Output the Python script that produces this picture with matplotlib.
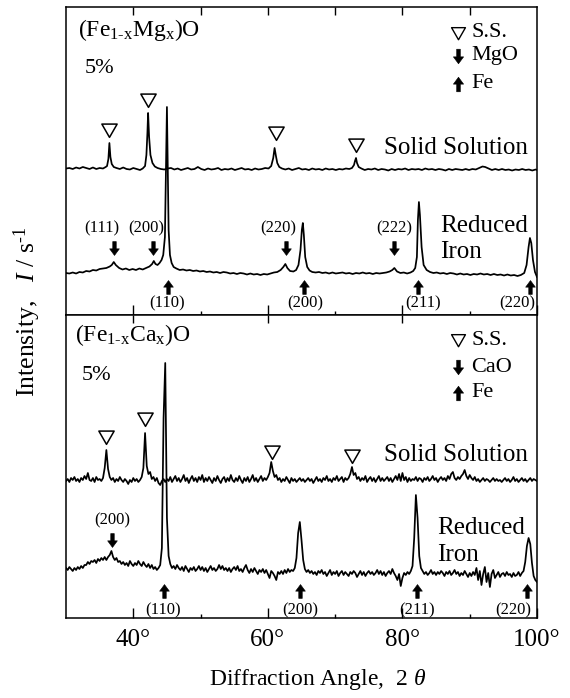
import numpy as np
import matplotlib
matplotlib.use("Agg")
import matplotlib.pyplot as plt
from matplotlib.path import Path

plt.rcParams['font.family'] = ['Liberation Serif', 'DejaVu Serif']
plt.rcParams['mathtext.fontset'] = 'custom'
plt.rcParams['mathtext.rm'] = 'Liberation Serif'
plt.rcParams['mathtext.it'] = 'Liberation Serif:italic'
plt.rcParams['mathtext.bf'] = 'Liberation Serif:bold'

# ---------------- data: (Fe1-xMgx)O panel ----------------
mg_ss_x = [30.0, 30.5, 31.0, 31.5, 32.0, 32.5, 33.0, 33.5, 34.0, 34.5, 35.0, 35.5, 35.9,
           36.1, 36.3, 36.45, 36.6, 36.8, 37.1, 37.5, 38.0, 38.5, 39.0, 39.5, 40.0, 40.5,
           41.0, 41.4, 41.75, 41.95, 42.1, 42.2, 42.35, 42.55, 42.85, 43.2, 43.6, 44.1,
           44.6, 45.1, 45.6, 46.1, 46.6, 47.1, 47.6, 48.1, 48.6, 49.1, 49.6, 50.1, 50.6,
           51.1, 51.6, 52.1, 52.6, 53.1, 53.6, 54.1, 54.6, 55.1, 55.6, 56.1, 56.6, 57.1,
           57.6, 58.1, 58.6, 59.1, 59.6, 60.1, 60.5, 60.8, 61.0, 61.2, 61.4, 61.7, 62.1,
           62.6, 63.1, 63.6, 64.1, 64.6, 65.1, 65.6, 66.1, 66.6, 67.1, 67.6, 68.1, 68.6,
           69.1, 69.6, 70.1, 70.6, 71.1, 71.6, 72.1, 72.5, 72.8, 72.95, 73.1, 73.25, 73.5,
           73.9, 74.4, 74.9, 75.4, 75.9, 76.4, 76.9, 77.4, 77.9, 78.4, 78.9, 79.4, 79.9,
           80.4, 80.9, 81.4, 81.9, 82.4, 82.9, 83.4, 83.9, 84.4, 84.9, 85.4, 85.9, 86.4,
           86.9, 87.4, 87.9, 88.4, 88.9, 89.4, 89.9, 90.4, 90.9, 91.4, 91.9, 92.3, 92.8,
           93.3, 93.8, 94.3, 94.8, 95.3, 95.8, 96.3, 96.8, 97.3, 97.8, 98.3, 98.8, 99.3,
           99.8, 100.0]
mg_ss_y = [146.5, 147, 146, 147.5, 146.5, 148, 147, 146, 147.5, 146, 147, 146.5, 148,
           149, 156, 172, 158, 151, 148, 147, 146, 147.5, 146, 145.5, 147, 146,
           145, 146.5, 149, 160, 182, 202, 178, 160, 152, 148.5, 147, 146,
           145.5, 146.5, 147, 145.5, 146.5, 145, 146, 147, 145.5, 146, 148, 146, 145,
           146.5, 145.5, 146, 147, 145, 146, 145.5, 146.5, 145, 146, 147, 145.5, 146,
           145, 146.5, 145.5, 146, 147, 146.5, 149, 157, 167, 159, 152, 148, 146.5,
           145.5, 146.5, 145, 146, 147, 145.5, 146, 145, 146.5, 145.5, 146, 145, 146.5,
           145.5, 146, 145, 146, 145.5, 146.5, 146, 147, 150, 154, 157, 152, 148,
           146.5, 145, 146, 145.5, 146.5, 145, 146, 145.5, 144.5, 146, 145, 146, 145.5,
           146.5, 145, 146, 145.5, 146, 145, 146.5, 145.5, 146, 145, 146, 145.5, 144.5,
           146, 145, 146, 145.5, 145, 146, 145, 146, 145.5, 147, 148.5, 148, 146.5,
           145, 146, 145, 146, 145, 145.5, 144.5, 145.5, 145, 146, 145, 145.5, 144.5,
           145.5, 145]

mg_ri_x = [30.0, 30.5, 31.0, 31.5, 32.0, 32.5, 33.0, 33.5, 34.0, 34.5, 35.0, 35.5, 36.0,
           36.5, 36.8, 37.1, 37.4, 37.9, 38.4, 38.9, 39.4, 39.9, 40.4, 40.9, 41.4, 41.9,
           42.4, 42.8, 43.05, 43.3, 43.6, 43.9, 44.2, 44.45, 44.7, 44.85, 45.0, 45.12,
           45.25, 45.45, 45.7, 46.0, 46.4, 46.9, 47.4, 47.9, 48.4, 48.9, 49.4, 49.9, 50.4,
           50.9, 51.4, 51.9, 52.4, 52.9, 53.4, 53.9, 54.4, 54.9, 55.4, 55.9, 56.4, 56.9,
           57.4, 57.9, 58.4, 58.9, 59.4, 59.9, 60.4, 60.9, 61.4, 61.9, 62.3, 62.6, 62.9,
           63.3, 63.8, 64.2, 64.55, 64.85, 65.05, 65.2, 65.35, 65.55, 65.85, 66.2, 66.6,
           67.1, 67.6, 68.1, 68.6, 69.1, 69.6, 70.1, 70.6, 71.1, 71.6, 72.1, 72.6, 73.1,
           73.6, 74.1, 74.6, 75.1, 75.6, 76.1, 76.6, 77.1, 77.6, 78.1, 78.5, 78.8, 79.2,
           79.7, 80.2, 80.7, 81.2, 81.6, 81.9, 82.15, 82.3, 82.45, 82.6, 82.85, 83.15,
           83.6, 84.1, 84.6, 85.1, 85.6, 86.1, 86.6, 87.1, 87.6, 88.1, 88.6, 89.1, 89.6,
           90.1, 90.6, 91.1, 91.6, 92.1, 92.6, 93.1, 93.6, 94.1, 94.6, 95.1, 95.6, 96.1,
           96.6, 97.1, 97.6, 98.1, 98.45, 98.75, 98.95, 99.15, 99.4, 99.7, 100.0]
mg_ri_y = [42, 41.5, 42.5, 41.5, 43, 42.5, 44, 43.5, 45, 44.5, 46, 46.5, 47,
           48.5, 50, 53, 50, 47, 45.5, 46.5, 45, 46, 45, 46.5, 45.5, 47,
           48.5, 51, 54, 51, 50, 52, 55, 60, 78, 140, 208, 150,
           85, 60, 52, 48, 46.5, 45, 45.5, 44.5, 45, 44, 44.5, 43.5, 44,
           43, 43.5, 42.5, 43, 42, 43, 42.5, 41.5, 42, 41, 42, 41.5, 40.5,
           41.5, 40.5, 41, 40, 41, 40.5, 41.5, 42.5, 43, 45, 48, 51, 47,
           44, 43.5, 45, 50, 65, 85, 92, 80, 58, 48, 44.5, 43,
           42.5, 43, 42, 42.5, 41.5, 42.5, 41.5, 42, 42.5, 41.5, 42, 41, 42,
           41.5, 42.5, 41.5, 42, 41, 42, 41.5, 42, 42.5, 43.5, 45, 47, 43.5,
           42, 42.5, 41.5, 42.5, 44, 47, 58, 95, 113, 100, 68, 50,
           45, 43, 42, 42.5, 41.5, 42, 41, 42, 41.5, 40.5, 41.5, 40.5, 41,
           40, 41, 40.5, 41.5, 40.5, 41, 40, 41, 40, 40.5, 39.5, 40.5, 39.5,
           40, 39, 40, 42, 50, 68, 77, 72, 55, 43, 38]

mg_ss_peaks = [36.45, 42.2, 61.2, 73.1]
mg_ss_marks = [185, 215, 182, 170]
mgo_arrow_x = [37.2, 43.0, 62.7, 78.8]
mgo_labels = ["(111)", "(200)", "(220)", "(222)"]
mgo_label_x = [35.3, 42.0, 61.6, 78.8]
mg_fe_arrow_x = [45.1, 65.3, 82.3, 99.0]
fe_labels = ["(110)", "(200)", "(211)", "(220)"]
mg_fe_label_x = [45.0, 65.6, 83.0, 97.0]

# ---------------- data: (Fe1-xCax)O panel (0.25 deg steps from 30 to 100) ----------------
ca_ss_y = [
    137, 139, 136, 140,  138, 141, 137, 139,  136, 140, 138, 142,  139, 145, 138, 137,
    140, 136, 141, 138,  139, 137, 140, 150,  168, 149, 141, 138,  140, 136, 139, 137,
    141, 138, 136, 139,  137, 134, 138, 136,  140, 137, 139, 136,  138, 141, 150, 185,
    152, 144, 146, 139,  141, 137, 140, 135,  133, 137, 139, 136,  139, 137, 141, 136,
    139, 142, 137, 140,  136, 139, 143, 137,  140, 135, 139, 142,  137, 140, 136, 141,
    138, 143, 136, 140,  137, 141, 138, 135,  140, 137, 142, 138,  135, 139, 141, 136,
    140, 137, 143, 138,  136, 140, 137, 142,  138, 135, 140, 137,  141, 136, 139, 143,
    137, 140, 136, 139,  142, 137, 140, 138,  141, 145, 156, 147,  141, 143, 138, 140,
    136, 139, 137, 141,  138, 135, 140, 137,  139, 136, 138, 140,  137, 139, 136, 138,
    140, 137, 139, 135,  138, 141, 137, 139,  136, 140, 138, 142,  137, 139, 136, 140,
    138, 142, 137, 139,  141, 136, 140, 138,  140, 144, 151, 143,  145, 139, 141, 137,
    140, 138, 142, 136,  139, 141, 137, 140,  136, 139, 142, 137,  140, 137, 139, 141,
    137, 140, 136, 139,  142, 138, 144, 137,  145, 138, 141, 136,  140, 137, 139, 138,
    141, 137, 140, 139,  136, 140, 138, 141,  137, 139, 142, 138,  140, 136, 139, 141,
    138, 140, 137, 142,  139, 144, 146, 140,  138, 141, 139, 142,  144, 148, 142, 139,
    143, 140, 138, 141,  137, 139, 136, 138,  140, 137, 139, 138,  136, 138, 140, 137,
    139, 137, 138, 136,  138, 140, 137, 139,  136, 138, 141, 137,  139, 136, 138, 140,
    137, 139, 136, 138,  140, 137, 139, 138,  137]
ca_ri_y = [
    50, 48, 51, 49,  47, 50, 48, 51,  49, 52, 50, 53,  53, 56, 54, 57,
    56, 58, 55, 59,  57, 60, 58, 61,  58, 61, 63, 67,  61, 58, 60, 56,
    57, 54, 56, 53,  55, 52, 57, 54,  52, 55, 53, 57,  54, 52, 56, 53,
    51, 54, 50, 53,  49, 51, 48, 50,  53, 70, 200, 255,  100, 62, 54, 50,
    52, 49, 53, 50,  48, 51, 47, 52,  49, 46, 50, 48,  51, 47, 49, 52,
    48, 51, 47, 50,  46, 49, 52, 48,  50, 47, 49, 53,  49, 52, 48, 50,
    47, 50, 46, 49,  51, 48, 52, 47,  49, 46, 50, 53,  48, 45, 49, 46,
    50, 47, 44, 48,  46, 49, 45, 48,  44, 40, 47, 45,  42, 38, 46, 44,
    47, 44, 48, 45,  49, 46, 48, 47,  50, 60, 85, 96,  78, 58, 49, 46,
    48, 45, 47, 44,  46, 43, 47, 45,  48, 44, 46, 42,  45, 48, 43, 46,
    44, 47, 42, 45,  47, 43, 46, 44,  42, 46, 44, 47,  45, 41, 44, 47,
    43, 46, 42, 45,  47, 44, 46, 43,  45, 48, 44, 47,  43, 46, 42, 45,
    47, 44, 49, 45,  42, 38, 44, 32,  40, 45, 43, 46,  44, 47, 52, 80,
    123, 100, 62, 50,  47, 44, 46, 43,  45, 48, 44, 46,  43, 46, 44, 47,
    45, 42, 46, 44,  47, 43, 45, 48,  44, 46, 42, 45,  43, 47, 44, 41,
    45, 42, 46, 43,  50, 38, 47, 33,  44, 51, 36, 45,  31, 44, 48, 40,
    43, 46, 41, 44,  45, 42, 46, 43,  44, 41, 45, 42,  43, 46, 42, 45,
    47, 56, 72, 80,  74, 55, 42, 38,  36]
ca_x = np.linspace(30, 100, len(ca_ss_y))

ca_ss_peaks = [35.9, 41.7, 60.6, 72.5]
ca_ss_marks = [181, 199, 166, 162]
cao_arrow_x = [36.9]
cao_labels = ["(200)"]
cao_label_x = [36.9]
ca_fe_arrow_x = [44.5, 64.8, 82.1, 98.5]
ca_fe_label_x = [44.4, 64.8, 82.2, 96.4]

xticks_major = [40, 60, 80, 100]
xtick_labels = ["40°", "60°", "80°", "100°"]

# ---------------- marker shapes ----------------
up_verts = [(-0.25, -1), (0.25, -1), (0.25, 0.05), (0.7, 0.05), (0, 1),
            (-0.7, 0.05), (-0.25, 0.05), (-0.25, -1)]
UP = Path(up_verts, closed=True)
DOWN = Path([(x, -y) for x, y in up_verts], closed=True)
TRI = Path([(-0.5, 0.42), (0.5, 0.42), (0, -0.45), (-0.5, 0.42)], closed=True)

fig = plt.figure(figsize=(5.70, 6.98), dpi=100)
L, W = 66 / 570, 471 / 570
ax1 = fig.add_axes([L, 1 - 315 / 698, W, 308 / 698])
ax2 = fig.add_axes([L, 1 - 618 / 698, W, 303 / 698])

lw = 1.25
ax1.plot(mg_ss_x, mg_ss_y, color='black', lw=lw)
ax1.plot(mg_ri_x, mg_ri_y, color='black', lw=lw)
ax2.plot(ca_x, ca_ss_y, color='black', lw=lw)
ax2.plot(ca_x, ca_ri_y, color='black', lw=lw)


def tri(ax, xs, ys, ms=11, **kw):
    ax.plot(xs, ys, ls='none', marker=TRI, ms=ms, mfc='white', mec='black', mew=1.1, **kw)


def arrows(ax, xs, ys, path, ms=10, **kw):
    ax.plot(xs, ys, ls='none', marker=path, ms=ms, mfc='black', mec='black', mew=0.4, **kw)


hkl_fs = 12
big_fs = 18

# top panel marks
tri(ax1, mg_ss_peaks, mg_ss_marks)
arrows(ax1, mgo_arrow_x, [67] * len(mgo_arrow_x), DOWN)
for lx, lab in zip(mgo_label_x, mgo_labels):
    ax1.text(lx, 87, lab, fontsize=hkl_fs, ha='center', va='center')
arrows(ax1, mg_fe_arrow_x, [28] * len(mg_fe_arrow_x), UP)
for lx, lab in zip(mg_fe_label_x, fe_labels):
    ax1.text(lx, 12, lab, fontsize=hkl_fs, ha='center', va='center')
ax1.text(98.6, 167, "Solid Solution", fontsize=big_fs, ha='right', va='center')
ax1.text(85.6, 89, "Reduced", fontsize=big_fs, ha='left', va='center')
ax1.text(85.6, 63, "Iron", fontsize=big_fs, ha='left', va='center')

# bottom panel marks
tri(ax2, ca_ss_peaks, ca_ss_marks)
arrows(ax2, cao_arrow_x, [78] * len(cao_arrow_x), DOWN)
for lx, lab in zip(cao_label_x, cao_labels):
    ax2.text(lx, 98, lab, fontsize=hkl_fs, ha='center', va='center')
arrows(ax2, ca_fe_arrow_x, [27] * len(ca_fe_arrow_x), UP)
for lx, lab in zip(ca_fe_label_x, fe_labels):
    ax2.text(lx, 8, lab, fontsize=hkl_fs, ha='center', va='center')
ax2.text(98.6, 163, "Solid Solution", fontsize=big_fs, ha='right', va='center')
ax2.text(85.1, 90, "Reduced", fontsize=big_fs, ha='left', va='center')
ax2.text(85.1, 63, "Iron", fontsize=big_fs, ha='left', va='center')

# titles, percentages, legends
panels = [
    (ax1, r"(Fe$_{\text{1-x}}$Mg$_{\text{x}}$)O", "MgO", 0.925, 0.80, [0.916, 0.841, 0.751], 0.025, 0.04),
    (ax2, r"(Fe$_{\text{1-x}}$Ca$_{\text{x}}$)O", "CaO", 0.934, 0.80, [0.917, 0.828, 0.743], 0.02, 0.034),
]
for ax, title, oxide, ty, py, ly, tx, px in panels:
    ax.text(tx, ty, title, transform=ax.transAxes, fontsize=17, ha='left', va='center')
    ax.text(px, py, "5%", transform=ax.transAxes, fontsize=16, ha='left', va='center')
    mx, txx = 0.832, 0.860
    ax.plot([mx], [ly[0]], transform=ax.transAxes, ls='none', marker=TRI, ms=10,
            mfc='white', mec='black', mew=1.0, clip_on=False)
    ax.plot([mx], [ly[1]], transform=ax.transAxes, ls='none', marker=DOWN, ms=10.5,
            mfc='black', mec='black', mew=0.4, clip_on=False)
    ax.plot([mx], [ly[2]], transform=ax.transAxes, ls='none', marker=UP, ms=10.5,
            mfc='black', mec='black', mew=0.4, clip_on=False)
    for yy, lab in zip(ly, ["S.S.", oxide, "Fe"]):
        ax.text(txx, yy, lab, transform=ax.transAxes, fontsize=16, ha='left', va='center')

# axes styling
for ax in (ax1, ax2):
    ax.set_xlim(30, 100)
    ax.set_yticks([])
    for s in ax.spines.values():
        s.set_linewidth(1.1)
    ax.set_xticks(xticks_major)
    ax.set_xticks([50, 70, 90], minor=True)
    ax.tick_params(axis='x', which='major', direction='in', length=7, width=1.0, top=False)
    ax.tick_params(axis='x', which='minor', direction='in', length=3, width=1.0, top=False)

ax1.set_ylim(0, 308)
ax2.set_ylim(0, 303)
ax1.tick_params(axis='x', labelbottom=False)
ax2.set_xticklabels(xtick_labels)
ax2.tick_params(axis='x', which='major', labelsize=18, pad=8)

sec1 = ax1.secondary_xaxis('top')
sec1.set_xticks([40, 50, 60, 70, 80, 90])
sec1.tick_params(axis='x', direction='in', length=5.5, width=1.0, labeltop=False)
sec1.spines['top'].set_visible(False)
sec2 = ax2.secondary_xaxis('top')
sec2.set_xticks([40, 60, 80])
sec2.tick_params(axis='x', direction='in', length=5.5, width=1.0, labeltop=False)
sec2.spines['top'].set_visible(False)

fig.text(318 / 570, 1 - 680 / 698, r"Diffraction Angle,  2 $\theta$", fontsize=17,
         ha='center', va='center')
fig.text(27 / 570, 1 - 312 / 698, r"Intensity,   $I$ / s$^{\text{-1}}$", fontsize=18.5,
         ha='center', va='center', rotation=90)

fig.savefig("out.png", dpi=100)
